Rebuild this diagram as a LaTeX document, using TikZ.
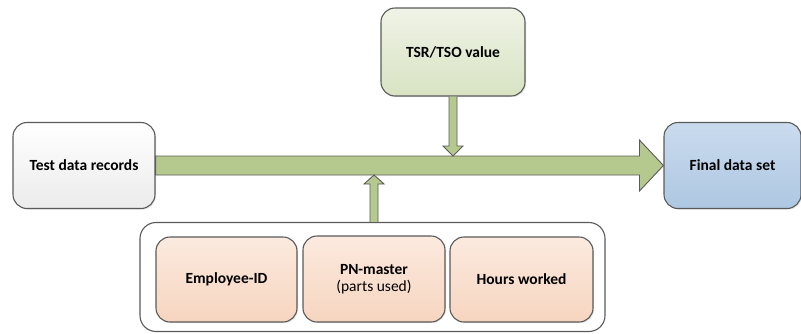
\documentclass[tikz,border=0pt]{standalone}
\usepackage{fontspec}
\setmainfont{Carlito}
\usetikzlibrary{calc,shadows}

\definecolor{edgegray}{HTML}{5A5A5A}
\definecolor{flowgreen}{HTML}{B5C98E}
\definecolor{greytop}{HTML}{FFFFFF}
\definecolor{greybot}{HTML}{EBEBEB}
\definecolor{greentop}{HTML}{EFF3E6}
\definecolor{greenbot}{HTML}{D8E3C3}
\definecolor{bluetop}{HTML}{CADBEE}
\definecolor{bluebot}{HTML}{AEC7E2}
\definecolor{peachtop}{HTML}{FCEADF}
\definecolor{peachbot}{HTML}{F6D5BF}

\begin{document}
\begin{tikzpicture}[x=1pt,y=-1pt,
  font=\fontsize{15.5}{18.5}\selectfont\bfseries,
  card/.style={draw=edgegray, line width=1.1pt, rounded corners=14pt,
    inner sep=0pt, align=center,
    drop shadow={shadow xshift=1.2pt, shadow yshift=-1.2pt, opacity=0.18}},
  flow/.style={draw=edgegray, line width=0.9pt, fill=flowgreen, line join=miter}]

\useasboundingbox (0,0) rectangle (801,333);

% process boxes
\node[card, top color=greytop, bottom color=greybot,
  minimum width=142pt, minimum height=86pt] (test) at (84,165.5) {Test data records};
\node[card, top color=greentop, bottom color=greenbot,
  minimum width=144pt, minimum height=88pt] (tsr) at (453,52) {TSR/TSO value};
\node[card, top color=bluetop, bottom color=bluebot,
  minimum width=137pt, minimum height=86pt] (final) at (732.5,165.5) {Final data set};

% group of lookup sources
\node[draw=edgegray, line width=1.1pt, rounded corners=16pt, fill=white,
  minimum width=465pt, minimum height=109pt] (inputs) at (372.5,277) {};
\node[card, top color=peachtop, bottom color=peachbot,
  minimum width=141pt, minimum height=85pt] (emp) at (226.5,279.5) {Employee-ID};
\node[card, top color=peachtop, bottom color=peachbot,
  minimum width=142pt, minimum height=86pt] (pn) at (374,279)
  {PN-master\\[-1pt]{\mdseries (parts used)}};
\node[card, top color=peachtop, bottom color=peachbot,
  minimum width=143pt, minimum height=85pt] (hours) at (521.5,279.5) {Hours worked};

% main flow arrow: shaft edges and head
\coordinate (mtop) at ($(final.west)+(0,-9.5)$);
\coordinate (mbot) at ($(final.west)+(0,9.5)$);
\draw[flow] ($(test.east)+(0,-9.5)$) -- ($(final.west)+(-24,-9.5)$)
  -- ($(final.west)+(-24,-25.5)$) -- (final.west)
  -- ($(final.west)+(-24,25.5)$) -- ($(final.west)+(-24,9.5)$)
  -- ($(test.east)+(0,9.5)$) -- cycle;

% TSR/TSO value feeding down into the flow
\coordinate (dtip) at (tsr.south |- mtop);
\draw[flow] ($(tsr.south)+(-4,0)$) -- ($(dtip)+(-4,-10)$) -- ($(dtip)+(-10,-10)$)
  -- (dtip) -- ($(dtip)+(10,-10)$) -- ($(dtip)+(4,-10)$) -- ($(tsr.south)+(4,0)$);

% lookup sources feeding up into the flow
\coordinate (ubase) at ($(inputs.north)+(1.5,0)$);
\coordinate (utip) at (ubase |- mbot);
\draw[flow] ($(ubase)+(-4,0)$) -- ($(utip)+(-4,9)$) -- ($(utip)+(-10,9)$)
  -- (utip) -- ($(utip)+(10,9)$) -- ($(utip)+(4,9)$) -- ($(ubase)+(4,0)$);

\end{tikzpicture}
\end{document}
